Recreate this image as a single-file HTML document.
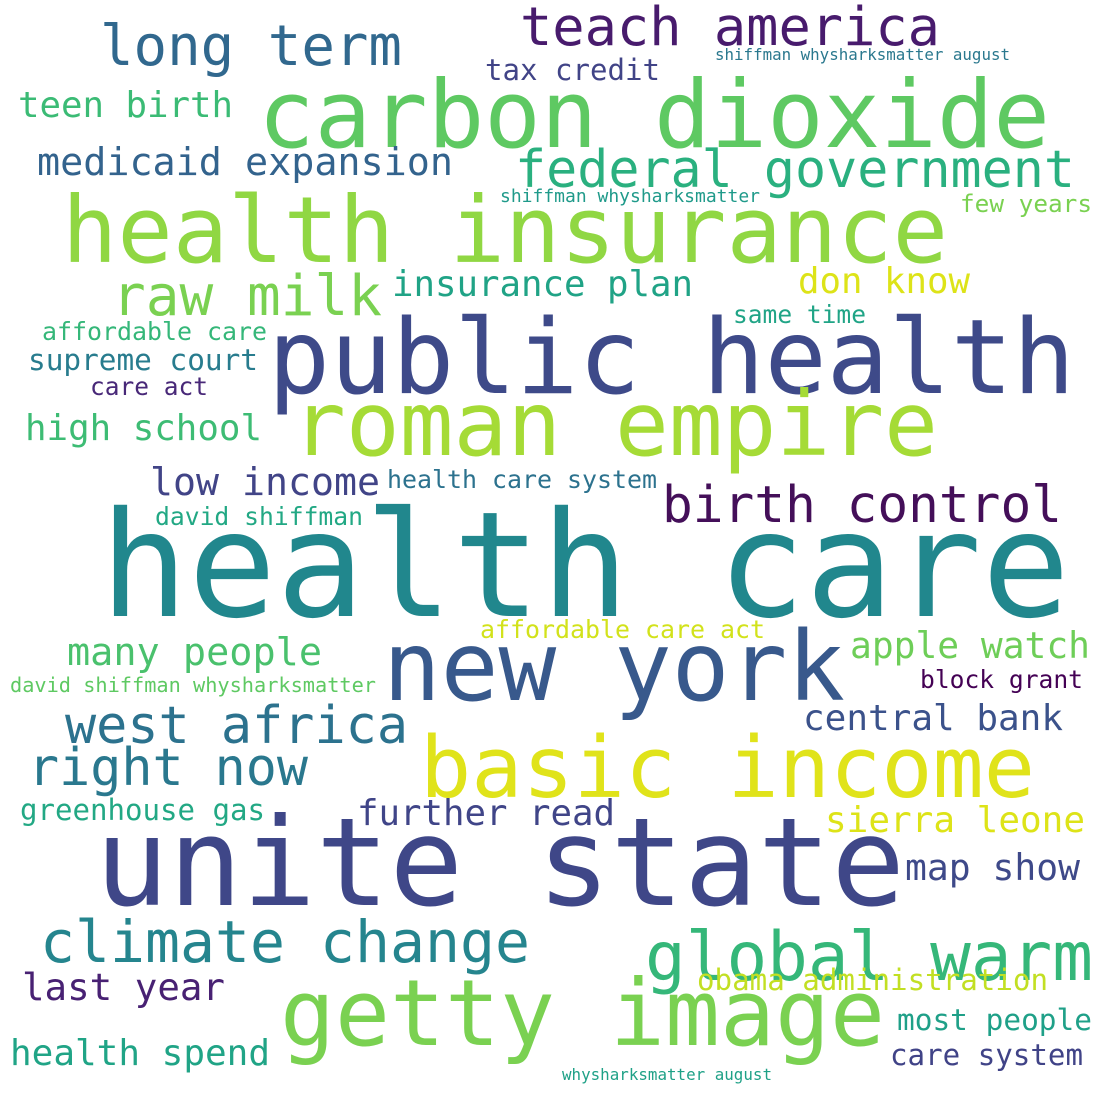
<!DOCTYPE html>
<html><head><meta charset="utf-8"><style>
html,body{margin:0;padding:0;background:#fff;}
svg{display:block;}
text{font-family:"DejaVu Sans Mono","Liberation Mono",monospace;}
</style></head><body>
<svg id="cloud" width="1101" height="1101" viewBox="0 0 1101 1101" xmlns="http://www.w3.org/2000/svg">
<rect width="1101" height="1101" fill="#ffffff"/>
</svg>
<script>
const words = ["health care","carbon dioxide","health insurance","public health","roman empire","new york","basic income","unite state","getty image","global warm","climate change","long term","teach america","federal government","birth control","raw milk","west africa","right now","medicaid expansion","teen birth","tax credit","shiffman whysharksmatter august","shiffman whysharksmatter","few years","insurance plan","don know","affordable care","same time","supreme court","care act","high school","low income","health care system","david shiffman","affordable care act","many people","apple watch","david shiffman whysharksmatter","block grant","central bank","greenhouse gas","further read","sierra leone","map show","obama administration","last year","most people","health spend","care system","whysharksmatter august"];
const xStart = [100,258,62,268,292,383,420,95,280,645,40,100,520,515,662,112,65,28,37,18,485,715,500,960,392,798,42,733,28,90,25,150,387,155,480,67,850,10,920,803,20,357,825,905,697,22,897,10,890,562];
const xEnd = [1070,1050,948,1075,938,845,1035,905,885,1093,530,402,940,1075,1062,382,408,308,453,233,660,1010,760,1092,693,970,267,866,258,208,262,380,657,363,765,322,1090,376,1083,1063,265,615,1085,1080,1048,225,1092,270,1083,772];
const baseY = [616,147,262,393,455,700,797,905,1045,980,962,65,45,187,522,315,743,785,175,117,80,60,202,212,296,293,340,323,370,395,440,495,488,525,638,665,658,692,688,730,820,825,832,880,990,1000,1030,1065,1065,1080];
const colors = ["#21878d","#5ec962","#90d743","#3e4a89","#a5db36","#38598c","#e0e31a","#3f4788","#7ad151","#35b779","#25858e","#31688e","#481b6d","#2ab07f","#440f59","#7ad151","#2c728e","#2a788e","#33638d","#3bbb75","#414487","#2a788e","#1f9a8a","#7ad151","#20a386","#dde318","#35b779","#20a486","#287c8e","#482878","#3dbc74","#414487","#2c728e","#22a884","#d2e21b","#4ac16d","#6ece58","#5ec962","#440154","#3b528b","#22a884","#404588","#dde318","#3e4989","#c2df23","#482173","#1fa088","#20a486","#404387","#1fa187"];
const svg = document.getElementById('cloud');
const NS = 'http://www.w3.org/2000/svg';
words.forEach((w, i) => {
  const width = xEnd[i] - xStart[i];
  const fs = width / (w.length * 0.602);
  const t = document.createElementNS(NS, 'text');
  t.setAttribute('x', xStart[i]);
  t.setAttribute('y', baseY[i]);
  t.setAttribute('font-size', fs.toFixed(1));
  t.setAttribute('fill', colors[i]);
  t.setAttribute('textLength', width);
  t.setAttribute('lengthAdjust', 'spacingAndGlyphs');
  t.textContent = w;
  
  
  svg.appendChild(t);
});
</script>
</body></html>
